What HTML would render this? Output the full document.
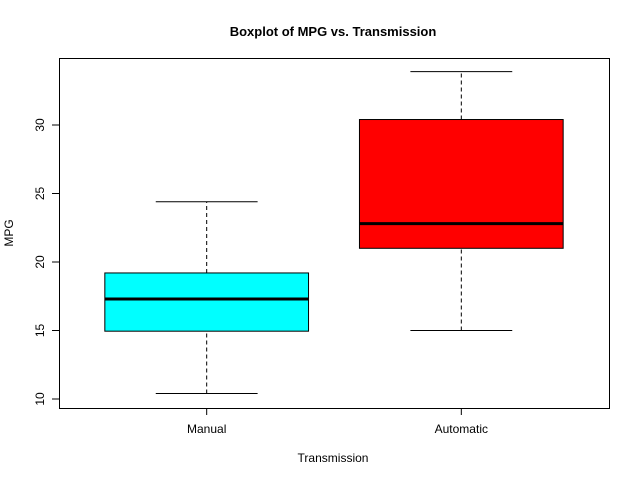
<!DOCTYPE html>
<html><head><meta charset="utf-8"><style>body{margin:0;background:#fff}svg{display:block;font-family:"Liberation Sans",Arial,sans-serif}</style></head>
<body>
<svg id="chart" width="640" height="480">
<rect width="640" height="480" fill="#fff"/>
<text x="333" y="36" text-anchor="middle" font-size="13" font-weight="bold">Boxplot of MPG vs. Transmission</text>
<text x="333" y="462" text-anchor="middle" font-size="12">Transmission</text>
<text transform="translate(13,233) rotate(-90)" text-anchor="middle" font-size="12">MPG</text>
<rect x="59.5" y="58.5" width="550" height="350" fill="none" stroke="#000"/>
<g id="marks"></g>
</svg>
<script>
const categories = ["Manual", "Automatic"];
const colors = ["#00ffff", "#ff0000"];
const mins = [10.4, 15.0];
const q1s = [14.95, 21.0];
const medians = [17.3, 22.8];
const q3s = [19.2, 30.4];
const maxs = [24.4, 33.9];
const yTicks = [10, 15, 20, 25, 30];

const ns = "http://www.w3.org/2000/svg";
const g = document.getElementById("marks");
const yS = v => 399 + (v - 10) * (125 - 399) / 20;
const xS = v => 59 + (v - 0.42) * 550 / 2.16;
const unit = 550 / 2.16;
function mk(tag, attrs, parent) {
  const e = document.createElementNS(ns, tag);
  for (const k in attrs) e.setAttribute(k, attrs[k]);
  (parent || g).appendChild(e);
  return e;
}
yTicks.forEach(t => {
  const y = yS(t);
  const l = mk("line", {x1: 52, x2: 59, y1: y, y2: y, stroke: "#000"});
  
  
  const tx = mk("text", {transform: `translate(44,${y}) rotate(-90)`, "text-anchor": "middle", "font-size": 12});
  tx.textContent = t;
  
  
});
mk("line", {x1: 59.5, x2: 59.5, y1: yS(10), y2: yS(30), stroke: "#000"});
categories.forEach((c, i) => {
  const cx = xS(i + 1);
  const hw = 0.4 * unit, cw = 0.2 * unit;
  const grp = mk("g", {});
  
  
  mk("line", {x1: cx, x2: cx, y1: yS(mins[i]), y2: yS(q1s[i]), stroke: "#000", "stroke-dasharray": "4,3"}, grp);
  mk("line", {x1: cx, x2: cx, y1: yS(q3s[i]), y2: yS(maxs[i]), stroke: "#000", "stroke-dasharray": "4,3"}, grp);
  mk("line", {x1: cx - cw, x2: cx + cw, y1: yS(mins[i]), y2: yS(mins[i]), stroke: "#000"}, grp);
  mk("line", {x1: cx - cw, x2: cx + cw, y1: yS(maxs[i]), y2: yS(maxs[i]), stroke: "#000"}, grp);
  mk("rect", {x: cx - hw, y: yS(q3s[i]), width: 2 * hw, height: yS(q1s[i]) - yS(q3s[i]), fill: colors[i], stroke: "#000"}, grp);
  mk("line", {x1: cx - hw, x2: cx + hw, y1: yS(medians[i]), y2: yS(medians[i]), stroke: "#000", "stroke-width": 3}, grp);
  const tk = mk("line", {x1: cx, x2: cx, y1: 408, y2: 415, stroke: "#000"});
  
  
  const lb = mk("text", {x: cx, y: 433, "text-anchor": "middle", "font-size": 12});
  lb.textContent = c;
  
  
});
mk("line", {x1: xS(1), x2: xS(2), y1: 408.5, y2: 408.5, stroke: "#000"});
</script>
</body></html>
